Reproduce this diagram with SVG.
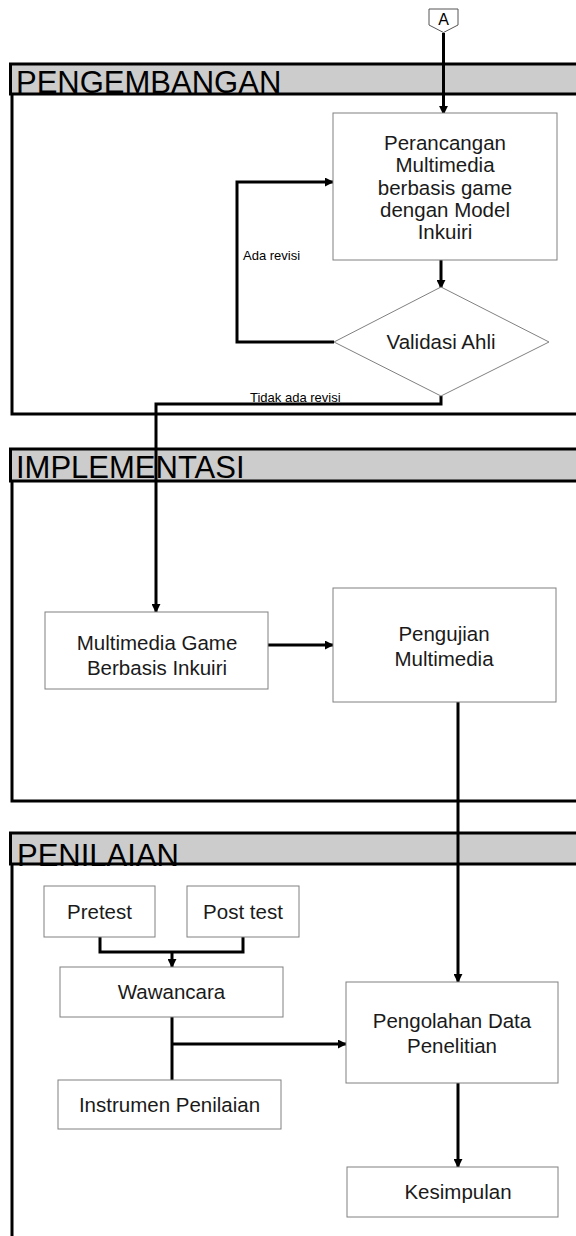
<svg xmlns="http://www.w3.org/2000/svg" width="576" height="1236" viewBox="0 0 576 1236">
<defs>
<marker id="arr" viewBox="0 0 10 10" refX="9" refY="5" markerWidth="3" markerHeight="3" orient="auto" markerUnits="strokeWidth">
<path d="M0,0 L10,5 L0,10 z" fill="#000"/>
</marker>
<style>
.hdr{fill:#cccccc;stroke:#000;stroke-width:3}
.lane{fill:none;stroke:#000;stroke-width:3}
.box{fill:#fff;stroke:#808080;stroke-width:1}
.con{fill:none;stroke:#000;stroke-width:3}
.arrow{marker-end:url(#arr)}
.t{font-family:"Liberation Sans",Arial,sans-serif;font-size:20.5px;fill:#1a1a1a;text-anchor:middle}
.lt{font-family:"Liberation Sans",Arial,sans-serif;font-size:31px;fill:#000}
.sm{font-family:"Liberation Sans",Arial,sans-serif;font-size:13px;fill:#000}
</style>
</defs>
<rect width="576" height="1236" fill="#fff"/>

<g id="lane-pengembangan">
<path class="lane" d="M12,94 V414 H600"/>
<rect class="hdr" x="10.5" y="64" width="600" height="30"/>
<text class="lt" x="16" y="93">PENGEMBANGAN</text>
</g>
<g id="lane-implementasi">
<path class="lane" d="M12,481 V801 H600"/>
<rect class="hdr" x="10.5" y="449" width="600" height="32"/>
<text class="lt" x="16" y="478">IMPLEMENTASI</text>
</g>
<g id="lane-penilaian">
<path class="lane" d="M12,864 V1240"/>
<rect class="hdr" x="10.5" y="833" width="600" height="31"/>
<text class="lt" x="17" y="866">PENILAIAN</text>
</g>

<g id="connectors">
<path class="con arrow" d="M443.5,33 V114"/>
<path class="con arrow" d="M441,260 V288"/>
<path class="con arrow" d="M334,342 H237 V182 H333"/>
<path class="con arrow" d="M441,396 V404 H156 V612"/>
<path class="con arrow" d="M268,645 H333"/>
<path class="con arrow" d="M458,702 V982"/>
<path class="con" d="M100,937 V952 H243 V937"/>
<path class="con arrow" d="M172,952 V967"/>
<path class="con" d="M172,1017 V1080"/>
<path class="con arrow" d="M172,1044 H346"/>
<path class="con arrow" d="M458,1083 V1167"/>
<text class="sm" x="243" y="260">Ada revisi</text>
<text class="sm" x="250" y="402">Tidak ada revisi</text>
</g>

<g id="connector-a">
<path d="M429,9 H458 V25 L443.5,32.5 L429,25 Z" fill="#fff" stroke="#555" stroke-width="1"/>
<text x="443.5" y="25" font-family="Liberation Sans,Arial,sans-serif" font-size="16" text-anchor="middle">A</text>
</g>

<g id="perancangan">
<rect class="box" x="333" y="113" width="224" height="147"/>
<text class="t" x="445" y="150">Perancangan</text>
<text class="t" x="445" y="172">Multimedia</text>
<text class="t" x="445" y="195">berbasis game</text>
<text class="t" x="445" y="217">dengan Model</text>
<text class="t" x="445" y="239">Inkuiri</text>
</g>

<g id="validasi">
<path class="box" d="M441,287 L549,342 L441,396 L334,342 Z"/>
<text class="t" x="441" y="349">Validasi Ahli</text>
</g>

<g id="multimedia-game">
<rect class="box" x="45" y="612" width="223" height="77"/>
<text class="t" x="157" y="650">Multimedia Game</text>
<text class="t" x="157" y="675">Berbasis Inkuiri</text>
</g>

<g id="pengujian">
<rect class="box" x="333" y="588" width="223" height="114"/>
<text class="t" x="444" y="641">Pengujian</text>
<text class="t" x="444" y="666">Multimedia</text>
</g>

<g id="pretest">
<rect class="box" x="44" y="886" width="111" height="51"/>
<text class="t" x="99.5" y="919">Pretest</text>
</g>

<g id="posttest">
<rect class="box" x="187" y="886" width="112" height="51"/>
<text class="t" x="243" y="919">Post test</text>
</g>

<g id="wawancara">
<rect class="box" x="60" y="967" width="223" height="50"/>
<text class="t" x="171.5" y="999">Wawancara</text>
</g>

<g id="instrumen">
<rect class="box" x="58" y="1080" width="223" height="49"/>
<text class="t" x="169.5" y="1112">Instrumen Penilaian</text>
</g>

<g id="pengolahan">
<rect class="box" x="346" y="982" width="212" height="101"/>
<text class="t" x="452" y="1028">Pengolahan Data</text>
<text class="t" x="452" y="1053">Penelitian</text>
</g>

<g id="kesimpulan">
<rect class="box" x="347" y="1167" width="211" height="50"/>
<text class="t" x="458" y="1199">Kesimpulan</text>
</g>
</svg>
